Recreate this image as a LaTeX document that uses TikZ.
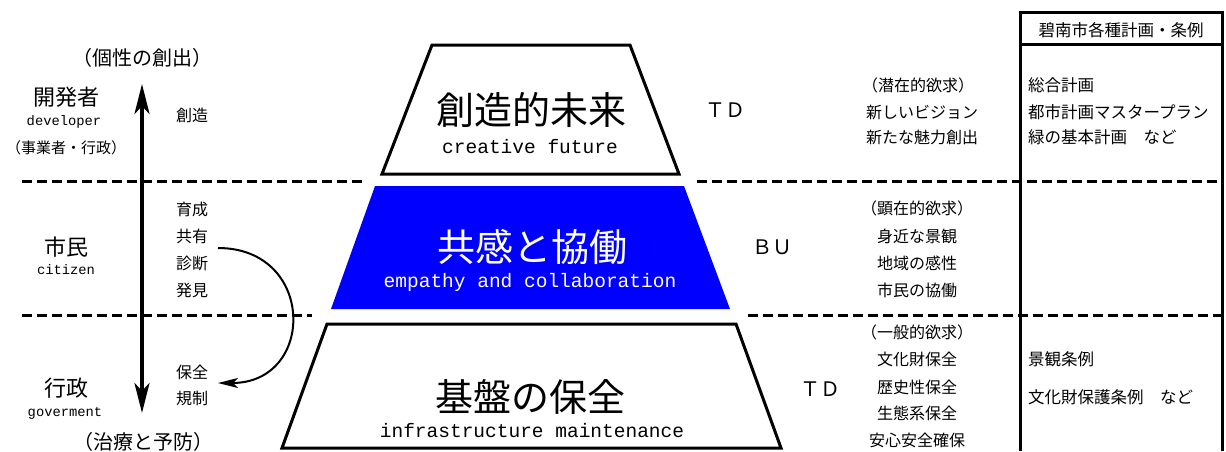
\documentclass[tikz,border=0pt]{standalone}
\usepackage{fontspec}
\setmainfont{Liberation Sans}
\newfontfamily\cjk{Noto Sans CJK JP}
\newfontfamily\mono{Liberation Mono}
\usetikzlibrary{arrows.meta}
\begin{document}
\begin{tikzpicture}[x=1pt,y=-1pt,
  big/.style={font=\cjk\fontsize{38}{40}\selectfont, inner sep=0pt},
  eng/.style={font=\mono\fontsize{19.5}{22}\selectfont, inner sep=0pt},
  word/.style={font=\cjk\fontsize{16}{18}\selectfont, inner sep=0pt},
  role/.style={font=\cjk\fontsize{22}{24}\selectfont, inner sep=0pt},
  roleen/.style={font=\mono\fontsize{13.8}{15}\selectfont, inner sep=0pt},
  paren/.style={font=\cjk\fontsize{20}{22}\selectfont, inner sep=0pt},
  side/.style={font=\cjk\fontsize{16}{18}\selectfont, inner sep=0pt},
  plan/.style={font=\cjk\fontsize{16.5}{18}\selectfont, inner sep=0pt, anchor=west},
  tdl/.style={font=\cjk\fontsize{20}{22}\selectfont, inner sep=0pt},
  sep/.style={line width=3pt, dash pattern=on 10pt off 5pt},
  trap/.style={line width=3pt, line join=miter},
  frame/.style={line width=3pt},
]
\useasboundingbox (0,0) rectangle (1226,451);
% separators
\draw[sep] (22,181) -- (365,181);
\draw[sep] (697,181) -- (1222,181);
\draw[sep] (22,315) -- (312,315);
\draw[sep] (748,315) -- (1222,315);
% right frame
\draw[frame] (1020,451) -- (1020,12) -- (1222,12) -- (1222,451);
\draw[frame] (1020,44) -- (1222,44);
% trapezoids
\draw[trap, fill=white] (432,45) -- (630,45) -- (679,174) -- (382,174) -- cycle;
\fill[blue] (375,186) -- (684,186) -- (730,309) -- (331,309) -- cycle;
\draw[trap, fill=white] (327,324) -- (736,324) -- (781,448) -- (282,448) -- cycle;
% pyramid texts
\node[big] (cf) at (531,110) {創造的未来};
\node[eng] (cfe) at (530,147) {creative future};
\node[big, text=white] (ec) at (532,247) {共感と協働};
\node[eng, text=white] (ece) at (530,282) {empathy and collaboration};
\node[big] (im) at (530,397) {基盤の保全};
\node[eng] (ime) at (532,431) {infrastructure maintenance};
% TD / BU
\node[tdl] (td1) at (725,110) {ＴＤ};
\node[tdl] (bu) at (772,247) {ＢＵ};
\node[tdl] (td2) at (820,389) {ＴＤ};
% left column
\node[paren] (p1) at (142,58) {（個性の創出）};
\node[role] (dev) at (66,97) {開発者};
\node[roleen] (deve) at (64,122) {developer};
\node[font=\cjk\fontsize{15}{17}\selectfont, inner sep=0pt] (devs) at (66,148) {（事業者・行政）};
\node[role] (cit) at (66,247) {市民};
\node[roleen] (cite) at (66,270) {citizen};
\node[role] (gov) at (66,388) {行政};
\node[roleen] (gove) at (65,413) {goverment};
\node[paren] (p2) at (143,442) {（治療と予防）};
% verbs
\node[word] (w1) at (192,115) {創造};
\node[word] (w2) at (192,209) {育成};
\node[word] (w3) at (192,236) {共有};
\node[word] (w4) at (192,263) {診断};
\node[word] (w5) at (192,290) {発見};
\node[word] (w6) at (192,372) {保全};
\node[word] (w7) at (192,398) {規制};
% arrows
\coordinate (up) at (142,84);
\coordinate (dn) at (142,413);
\draw[line width=4pt, {Stealth[length=30pt,width=15pt,inset=8pt]}-{Stealth[length=30pt,width=15pt,inset=8pt]}] (up) -- (dn);
\coordinate (cs) at (218,248);
\coordinate (ce) at (218,383);
\draw[line width=2pt, -{Stealth[length=20pt,width=10pt,inset=5pt]}] (cs) .. controls (316,248) and (316,383) .. (ce);
% needs column
\node[side] (n1) at (918,85) {（潜在的欲求）};
\node[side] (n2) at (922,112) {新しいビジョン};
\node[side] (n3) at (922,137) {新たな魅力創出};
\node[side] (n4) at (917,208) {（顕在的欲求）};
\node[side] (n5) at (917,236) {身近な景観};
\node[side] (n6) at (917,263) {地域の感性};
\node[side] (n7) at (917,290) {市民の協働};
\node[side] (n8) at (917,332) {（一般的欲求）};
\node[side] (n9) at (917,359) {文化財保全};
\node[side] (n10) at (917,387) {歴史性保全};
\node[side] (n11) at (917,413) {生態系保全};
\node[side] (n12) at (917,440) {安心安全確保};
% plans
\node[font=\cjk\fontsize{16.5}{18}\selectfont, inner sep=0pt] (hd) at (1121,30) {碧南市各種計画・条例};
\node[plan] (r1) at (1028,85) {総合計画};
\node[plan] (r2) at (1028,112) {都市計画マスタープラン};
\node[plan] (r3) at (1028,137) {緑の基本計画　など};
\node[plan] (r4) at (1028,359) {景観条例};
\node[plan] (r5) at (1028,397) {文化財保護条例　など};
\end{tikzpicture}
\end{document}
